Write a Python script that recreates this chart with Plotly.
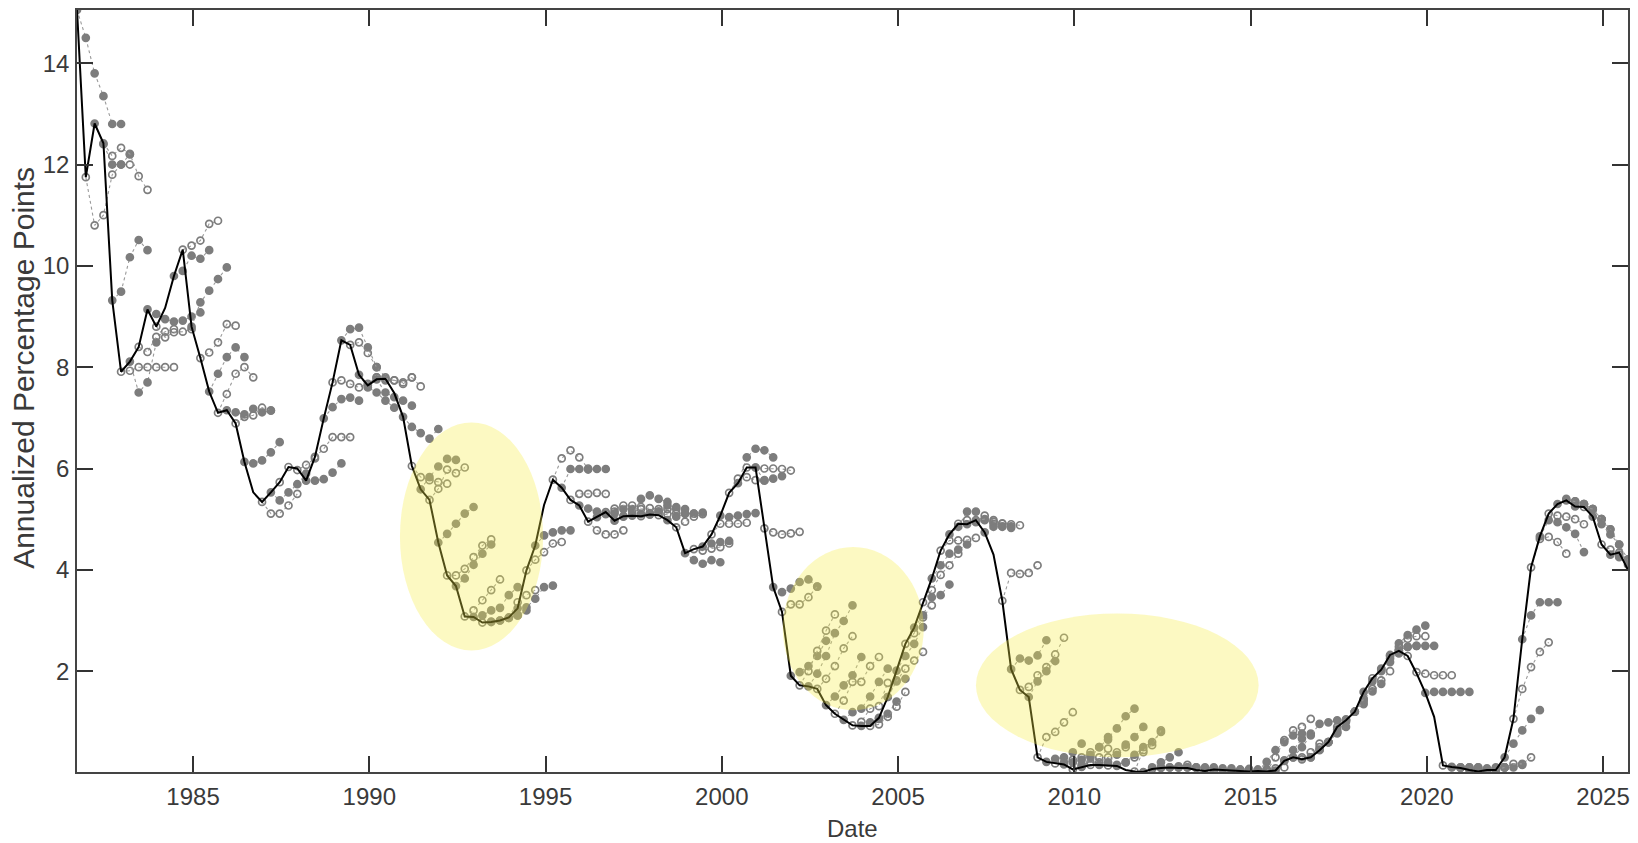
import plotly.graph_objects as go

# ---------------- data ----------------
# Quarterly series (1981Q3 ... 2025Q3), annualized percentage points
start_year, start_q = 1981, 3
actual = [
    15.05, 11.75,
    12.81, 12.42, 9.32, 7.91,
    8.11, 8.40, 9.14, 8.80,
    9.17, 9.80, 10.32, 8.80,
    8.18, 7.52, 7.10, 7.15,
    6.89, 6.13, 5.53, 5.34,
    5.53, 5.73, 6.03, 6.00,
    5.76, 6.23, 6.99, 7.70,
    8.53, 8.44, 7.85, 7.64,
    7.76, 7.77, 7.49, 7.02,
    6.05, 5.59, 5.38, 4.54,
    3.89, 3.68, 3.08, 3.07,
    2.96, 2.97, 3.00, 3.06,
    3.24, 3.99, 4.48, 5.28,
    5.78, 5.62, 5.38, 5.27,
    4.95, 5.04, 5.14, 4.97,
    5.06, 5.07, 5.06, 5.09,
    5.08, 4.98, 4.84, 4.33,
    4.41, 4.46, 4.70, 5.07,
    5.52, 5.71, 6.02, 6.02,
    4.82, 3.66, 3.17, 1.91,
    1.72, 1.70, 1.65, 1.33,
    1.16, 1.04, 0.93, 0.92,
    0.92, 1.08, 1.49, 2.01,
    2.54, 2.86, 3.36, 3.83,
    4.38, 4.70, 4.91, 4.90,
    4.98, 4.74, 4.30, 3.39,
    2.04, 1.63, 1.49, 0.30,
    0.21, 0.18, 0.16, 0.06,
    0.11, 0.15, 0.15, 0.14,
    0.13, 0.05, 0.02, 0.01,
    0.07, 0.09, 0.10, 0.09,
    0.09, 0.05, 0.03, 0.06,
    0.05, 0.03, 0.03, 0.02,
    0.03, 0.02, 0.04, 0.23,
    0.30, 0.26, 0.30, 0.44,
    0.60, 0.90, 1.03, 1.20,
    1.59, 1.86, 2.03, 2.32,
    2.40, 2.30, 1.96, 1.57,
    1.10, 0.14, 0.11, 0.09,
    0.05, 0.02, 0.05, 0.05,
    0.30, 1.06, 2.63, 4.05,
    4.66, 5.11, 5.30, 5.37,
    5.25, 5.24, 5.05, 4.50,
    4.30, 4.34, 4.00,
]

# Forecast paths: quarter offset (from 1981Q3) where each path starts, and its values
forecast_start = [
    0, 1, 2, 3, 4, 5, 6, 7, 8, 9, 11, 12, 13, 14, 15, 16, 17, 18, 19, 21,
    22, 23, 26, 27, 28, 29, 30, 31, 32, 33, 34, 35, 37, 38, 39, 40, 41, 42, 43, 44,
    45, 46, 47, 49, 50, 51, 52, 54, 55, 56, 57, 58, 59, 60, 61, 62, 63, 64, 65, 66,
    67, 68, 69, 70, 71, 72, 73, 74, 75, 76, 77, 78, 79, 80, 81, 82, 83, 84, 85, 86,
    87, 88, 89, 90, 91, 92, 93, 94, 95, 96, 97, 98, 99, 100, 101, 102, 103, 105, 106, 107,
    108, 109, 110, 111, 112, 113, 114, 115, 116, 117, 118, 120, 121, 122, 123, 125, 127, 129, 131, 133,
    134, 135, 136, 137, 138, 139, 140, 141, 142, 143, 144, 145, 146, 147, 148, 149, 150, 151, 153, 155,
    156, 157, 158, 159, 160, 161, 162, 163, 164, 165, 166, 167, 168, 169, 170, 171, 172, 173, 174, 175,
]
forecast_paths = [
    [15.05, 14.5, 13.8, 13.35, 12.8, 12.8],
    [11.75, 10.8, 11.0, 11.8, 12.0, 12.0],
    [12.81, 12.4, 12.0, 12.0, 12.2],
    [12.42, 12.17, 12.33, 12.21, 11.77, 11.5],
    [9.32, 9.49, 10.17, 10.51, 10.31],
    [7.91, 7.93, 8.0, 8.0, 8.0, 8.0, 8.0],
    [8.11, 7.5, 7.7, 8.49],
    [8.40, 8.3, 8.6, 8.7, 8.75],
    [9.14, 9.05, 8.95, 8.9, 8.92, 9.0, 9.08],
    [8.80, 8.59, 8.69, 8.7, 8.75],
    [9.80, 9.9, 10.2, 10.14, 10.31],
    [10.32, 10.4, 10.5, 10.83, 10.89],
    [8.80, 9.28, 9.51, 9.74, 9.97],
    [8.18, 8.29, 8.49, 8.85, 8.82],
    [7.52, 7.87, 8.2, 8.39, 8.2],
    [7.10, 7.47, 7.87, 8.0, 7.8],
    [7.15, 7.11, 7.07, 7.18, 7.11, 7.14],
    [6.89, 7.02, 7.05, 7.2, 7.15],
    [6.13, 6.1, 6.16, 6.32, 6.52],
    [5.34, 5.11, 5.11, 5.27, 5.5],
    [5.53, 5.37, 5.53, 5.69, 5.9],
    [5.73, 6.03, 5.97, 6.07, 6.2],
    [5.76, 5.76, 5.79, 5.92, 6.1],
    [6.23, 6.39, 6.62, 6.62, 6.62],
    [6.99, 7.21, 7.37, 7.4, 7.34],
    [7.70, 7.74, 7.67, 7.6, 7.67, 7.8],
    [8.53, 8.75, 8.78, 8.39, 8.0],
    [8.44, 8.49, 8.28, 8.0, 7.8],
    [7.85, 7.6, 7.5, 7.34, 7.2],
    [7.64, 7.8, 7.74, 7.74, 7.7, 7.8],
    [7.76, 7.5, 7.41, 7.34, 7.24],
    [7.77, 7.74, 7.67, 7.8, 7.62],
    [7.02, 6.82, 6.7, 6.59, 6.78],
    [6.05, 5.83, 5.77, 5.73, 5.7],
    [5.59, 5.83, 6.04, 6.19, 6.17],
    [5.38, 5.6, 5.98, 5.91, 6.02],
    [4.54, 4.71, 4.91, 5.11, 5.24],
    [3.89, 3.89, 4.02, 4.25, 4.48, 4.6],
    [3.68, 3.83, 4.1, 4.32, 4.5],
    [3.08, 3.2, 3.4, 3.6, 3.81],
    [3.07, 3.1, 3.2, 3.25, 3.5, 3.66],
    [2.96, 2.98, 3.0, 3.05, 3.1],
    [2.97, 3.0, 3.05, 3.1, 3.2],
    [3.06, 3.36, 3.5, 3.6],
    [3.24, 3.26, 3.43, 3.66, 3.69],
    [3.99, 4.2, 4.35, 4.52, 4.55],
    [4.48, 4.68, 4.74, 4.78, 4.78],
    [5.78, 6.2, 6.36, 6.22, 6.0],
    [5.62, 5.99, 5.99, 5.98, 5.99, 5.99],
    [5.38, 5.5, 5.5, 5.52, 5.5],
    [5.27, 5.21, 5.15, 5.11, 5.11],
    [4.95, 4.78, 4.7, 4.7, 4.78],
    [5.04, 5.1, 5.15, 5.2, 5.2],
    [5.14, 5.21, 5.27, 5.27, 5.24],
    [4.97, 5.05, 5.1, 5.1, 5.12],
    [5.06, 5.15, 5.2, 5.22, 5.2],
    [5.07, 5.4, 5.47, 5.4, 5.34],
    [5.06, 5.1, 5.15, 5.2, 5.2],
    [5.09, 5.15, 5.27, 5.24, 5.2],
    [5.08, 5.1, 5.12, 5.11, 5.11],
    [4.98, 5.05, 5.11, 5.11, 5.13],
    [4.84, 4.95, 5.05, 5.1],
    [4.33, 4.19, 4.12, 4.19, 4.15],
    [4.41, 4.38, 4.42, 4.45, 4.52],
    [4.46, 4.52, 4.55, 4.57],
    [4.70, 4.91, 4.91, 4.91, 4.93],
    [5.07, 5.04, 5.07, 5.1, 5.12],
    [5.52, 5.8, 5.83, 5.77, 5.77],
    [5.71, 6.22, 6.39, 6.36, 6.22],
    [6.02, 6.02, 6.0, 6.0, 5.99, 5.96],
    [6.02, 5.76, 5.8, 5.85],
    [4.82, 4.74, 4.7, 4.72, 4.75],
    [3.66, 3.56, 3.63, 3.76, 3.81, 3.67],
    [3.17, 3.32, 3.32, 3.46, 3.67],
    [1.91, 1.98, 2.1, 2.3, 2.6],
    [1.72, 2.0, 2.4, 2.8, 3.12],
    [1.70, 1.95, 2.3, 2.75, 2.99, 3.3],
    [1.65, 1.85, 2.1, 2.45, 2.69],
    [1.33, 1.5, 1.72, 1.92, 2.28],
    [1.16, 1.42, 1.79, 1.79, 2.1, 2.28],
    [1.04, 1.19, 1.26, 1.5, 1.79, 2.05],
    [0.93, 1.0, 1.26, 1.31, 1.77],
    [0.92, 0.99, 1.06, 1.16, 1.4],
    [0.92, 0.95, 1.1, 1.3, 1.59],
    [1.08, 1.49, 1.82, 1.85],
    [1.49, 1.8, 2.05, 2.21, 2.38],
    [2.01, 2.3, 2.54, 2.87],
    [2.54, 2.75, 3.06, 3.3],
    [2.86, 3.1, 3.46, 3.5, 3.71],
    [3.36, 3.6, 3.9, 4.09, 4.32],
    [3.83, 4.09, 4.32, 4.4, 4.5],
    [4.38, 4.58, 4.58, 4.59, 4.63],
    [4.70, 4.85, 5.15, 5.15],
    [4.91, 4.98, 4.94, 5.07, 4.98, 4.91],
    [4.90, 4.95, 4.98, 4.91, 4.86, 4.86],
    [4.98, 5.0, 4.95, 4.92, 4.9, 4.88],
    [4.74, 4.85, 4.85, 4.83],
    [3.39, 3.94, 3.92, 3.94, 4.09],
    [2.04, 2.25, 2.21, 2.31, 2.61],
    [1.63, 1.69, 1.92, 2.08, 2.33, 2.66],
    [1.49, 1.8, 2.0, 2.2],
    [0.30, 0.7, 0.8, 0.99, 1.19],
    [0.21, 0.27, 0.3, 0.4, 0.57],
    [0.18, 0.2, 0.25, 0.3, 0.4],
    [0.16, 0.2, 0.25, 0.35, 0.5, 0.65],
    [0.06, 0.15, 0.2, 0.3, 0.47],
    [0.11, 0.3, 0.5, 0.7, 0.87, 1.11, 1.26],
    [0.15, 0.2, 0.3, 0.4, 0.5],
    [0.15, 0.2, 0.35, 0.55, 0.7, 0.9],
    [0.14, 0.15, 0.2, 0.3, 0.4],
    [0.13, 0.2, 0.35, 0.5, 0.6, 0.8],
    [0.02, 0.44, 0.54, 0.83],
    [0.01, 0.1, 0.2, 0.3, 0.4],
    [0.07, 0.1, 0.1, 0.12, 0.15],
    [0.09, 0.1, 0.1, 0.1, 0.1],
    [0.10, 0.1, 0.1, 0.1, 0.1],
    [0.09, 0.08, 0.08, 0.08, 0.08],
    [0.03, 0.05, 0.05, 0.06, 0.07],
    [0.05, 0.05, 0.06, 0.06, 0.07],
    [0.02, 0.03, 0.05, 0.08, 0.1],
    [0.03, 0.21, 0.44, 0.6, 0.73, 0.77],
    [0.02, 0.3, 0.64, 0.83, 0.9, 1.06],
    [0.04, 0.24, 0.44, 0.67, 0.77],
    [0.23, 0.3, 0.3, 0.4, 0.57],
    [0.30, 0.5, 0.73, 0.96, 0.99, 1.03],
    [0.26, 0.3, 0.5, 0.6, 0.8],
    [0.30, 0.45, 0.6, 0.77, 0.9],
    [0.44, 0.6, 0.8, 1.03],
    [0.60, 0.85, 1.0, 1.2, 1.35],
    [0.90, 1.05, 1.2, 1.4],
    [1.03, 1.2, 1.45, 1.6, 1.75],
    [1.20, 1.45, 1.65, 1.82, 2.0],
    [1.59, 1.8, 2.0, 2.18, 2.35],
    [1.86, 2.05, 2.25, 2.41, 2.48, 2.5],
    [2.03, 2.3, 2.55, 2.71, 2.82, 2.9],
    [2.32, 2.48, 2.64, 2.69, 2.69],
    [2.40, 2.48, 2.5, 2.5, 2.5],
    [2.30, 1.98, 1.95, 1.92, 1.92, 1.92],
    [1.57, 1.59, 1.59, 1.59, 1.59, 1.59],
    [0.14, 0.1, 0.1, 0.1, 0.1],
    [0.11, 0.1, 0.1, 0.1],
    [0.09, 0.08, 0.08, 0.08, 0.1],
    [0.05, 0.05, 0.06, 0.08, 0.1],
    [0.02, 0.05, 0.05, 0.1],
    [0.05, 0.05, 0.1, 0.1, 0.15],
    [0.05, 0.1, 0.17, 0.17, 0.3],
    [0.30, 0.57, 0.83, 1.06, 1.23],
    [1.06, 1.65, 2.08, 2.38, 2.57],
    [2.63, 3.1, 3.36, 3.36, 3.36],
    [4.05, 4.61, 4.65, 4.55, 4.32],
    [4.66, 4.98, 4.94, 4.84, 4.71, 4.35],
    [5.11, 5.07, 5.05, 5.0, 4.9],
    [5.30, 5.4, 5.35, 5.3, 5.2],
    [5.37, 5.35, 5.3, 5.2, 5.0],
    [5.25, 5.3, 5.2, 5.0, 4.8],
    [5.24, 5.2, 5.0, 4.8, 4.5],
    [5.05, 4.9, 4.7, 4.5, 4.2],
    [4.50, 4.4, 4.3, 4.2],
    [4.30, 4.25, 4.1],
    [4.34, 4.2],
]

x_ticks = [1985, 1990, 1995, 2000, 2005, 2010, 2015, 2020, 2025]
y_ticks = [2, 4, 6, 8, 10, 12, 14]

# highlighted regions: (centre date, centre value, half-width in years, half-height in points)
highlights = [
    (1992.9, 4.66, 2.03, 2.25),
    (2003.73, 2.84, 2.0, 1.61),
    (2011.22, 1.72, 4.01, 1.42),
]


def qpos(k):
    """date position of quarter k counted from the first quarter (middle of the last month)."""
    q_abs = (start_q - 1) + k
    year = start_year + q_abs // 4
    q = q_abs % 4 + 1
    return year + (3 * q - 0.5) / 12.0


n_q = len(actual)
x_actual = [qpos(k) for k in range(n_q)]

fig = go.Figure()

gray = "#7d7d7d"
for j, (s, vals) in enumerate(zip(forecast_start, forecast_paths)):
    vals = vals[: max(0, n_q - s)]
    xs = [qpos(s + k) for k in range(len(vals))]
    filled = (j % 2 == 0)
    fig.add_trace(go.Scatter(
        x=xs, y=vals, mode="lines+markers",
        line=dict(color="#9a9a9a", width=1.1, dash="3px,3px"),
        marker=dict(symbol="circle" if filled else "circle-open", size=7,
                    color=gray, line=dict(color=gray, width=1.7)),
        showlegend=False, hoverinfo="skip", cliponaxis=True,
    ))

fig.add_trace(go.Scatter(
    x=x_actual, y=actual, mode="lines",
    line=dict(color="black", width=2),
    showlegend=False, hoverinfo="skip",
))

shapes = []
for cx, cy, hw, hh in highlights:
    shapes.append(dict(
        type="circle", xref="x", yref="y",
        x0=cx - hw, x1=cx + hw, y0=cy - hh, y1=cy + hh,
        fillcolor="rgba(245,238,70,0.33)", line=dict(width=0), layer="above",
    ))

axis_font = dict(family="Liberation Sans, Arial, sans-serif", size=24, color="#3a3a3a")

fig.update_layout(
    width=1638, height=843,
    margin=dict(l=77, r=8, t=9, b=71),
    paper_bgcolor="white", plot_bgcolor="white",
    shapes=shapes,
    font=axis_font,
    xaxis=dict(
        range=[qpos(0), qpos(n_q - 1)], tickvals=x_ticks, ticktext=[str(v) for v in x_ticks],
        ticks="inside", ticklen=16, tickwidth=1.5, tickcolor="#333",
        showline=True, linecolor="#444", linewidth=1.5, mirror="ticks",
        showgrid=False, zeroline=False, tickfont=axis_font, ticklabelstandoff=2,
    ),
    yaxis=dict(
        range=[0.01, 15.05], tickvals=y_ticks, ticktext=[str(v) for v in y_ticks],
        ticks="inside", ticklen=16, tickwidth=1.5, tickcolor="#333",
        showline=True, linecolor="#444", linewidth=1.5, mirror="ticks",
        showgrid=False, zeroline=False, tickfont=axis_font, ticklabelstandoff=1,
    ),
    annotations=[
        dict(text="Date", xref="paper", yref="paper", x=0.5, y=-0.074,
             showarrow=False, xanchor="center", yanchor="middle",
             font=dict(family="Liberation Sans, Arial, sans-serif", size=24, color="#3a3a3a")),
        dict(text="Annualized Percentage Points", xref="paper", yref="paper",
             x=-0.035, y=0.53, textangle=-90, showarrow=False,
             xanchor="center", yanchor="middle",
             font=dict(family="Liberation Sans, Arial, sans-serif", size=30, color="#3a3a3a")),
    ],
)

fig.write_html("out.html")
